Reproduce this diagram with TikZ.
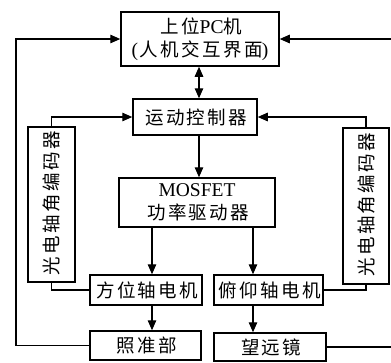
\documentclass[tikz,border=0pt]{standalone}
\usepackage{fontspec}
\setmainfont{Liberation Serif}
\newfontfamily\cjk[LetterSpace=13]{Noto Sans CJK SC}
\usetikzlibrary{arrows.meta}
\newcommand\zh[1]{{\cjk #1}}
\newcommand\zhe[1]{{\cjk #1}\kern-2.4pt}
\newcommand\lat[1]{{\fontsize{19.5}{24}\selectfont #1}}
\begin{document}
\begin{tikzpicture}[x=1pt,y=-1pt,
  box/.style={draw, line width=1.5pt, inner sep=0pt, align=center,
    font=\fontsize{18.5}{24}\selectfont},
  con/.style={line width=1.3pt},
  arr/.style={con, -{Triangle[length=10pt,width=8.5pt]}},
  darr/.style={con, {Triangle[length=10pt,width=8.5pt]}-{Triangle[length=10pt,width=8.5pt]}}]
\useasboundingbox (0,0) rectangle (391,362);
% boxes
\node[box, minimum width=158pt, minimum height=54pt] (top) at (200,39)
  {\zh{上位}\lat{PC}\zhe{机}\\[-1pt]\lat{(}\kern1.5pt\zhe{人机交互界面}\kern1.5pt\lat{)}};
\node[box, minimum width=124pt, minimum height=36pt] (ctrl) at (195,117) {\zhe{运动控制器}};
\node[box, minimum width=156pt, minimum height=49pt] (mos) at (197,202.5)
  {\lat{MOSFET}\\[-1pt]\zhe{功率驱动器}};
\node[box, minimum width=47pt, minimum height=155pt] (enL) at (51.5,204.5) {};
\node[rotate=90, font=\fontsize{18.5}{24}\selectfont, inner sep=0pt] (tL) at (enL.center) {\zhe{光电轴角编码器}};
\node[box, minimum width=46pt, minimum height=156pt] (enR) at (366,206) {};
\node[rotate=90, font=\fontsize{18.5}{24}\selectfont, inner sep=0pt] (tR) at (enR.center) {\zhe{光电轴角编码器}};
\node[box, minimum width=112pt, minimum height=30pt] (azm) at (146,290) {\zhe{方位轴电机}};
\node[box, minimum width=109pt, minimum height=30pt] (elm) at (268.5,290) {\zhe{俯仰轴电机}};
\node[box, minimum width=111pt, minimum height=29pt] (zhun) at (145.5,345.5) {\zhe{照准部}};
\node[box, minimum width=112pt, minimum height=28pt] (tel) at (270,347) {\zhe{望远镜}};
% helper coordinates
\coordinate (lx) at (16,0);
\coordinate (rx) at (392,0);
\coordinate (dx) at (199,0);
\coordinate (ax) at (152,0);
\coordinate (bx) at (253,0);
% connectors
\draw[arr] (zhun.west) -- (zhun.west -| lx) -- (lx |- top.west) -- (top.west);
\draw[con] (tel.east) -- (tel.east -| rx);
\draw[arr] (rx |- top.east) -- (top.east);
\draw[darr] (top.south -| dx) -- (ctrl.north -| dx);
\draw[arr] (enL.north) -- (enL.north |- ctrl.west) -- (ctrl.west);
\draw[arr] (enR.north) -- (enR.north |- ctrl.east) -- (ctrl.east);
\draw[arr] (ctrl.south -| dx) -- (mos.north -| dx);
\draw[arr] (mos.south -| ax) -- (azm.north -| ax);
\draw[arr] (mos.south -| bx) -- (elm.north -| bx);
\draw[arr] (azm.south -| ax) -- (zhun.north -| ax);
\draw[arr] (elm.south -| bx) -- (tel.north -| bx);
\draw[con] (enL.south) -- (enL.south |- azm.west) -- (azm.west);
\draw[con] (elm.east) -- (elm.east -| enR.south) -- (enR.south);
\end{tikzpicture}
\end{document}
